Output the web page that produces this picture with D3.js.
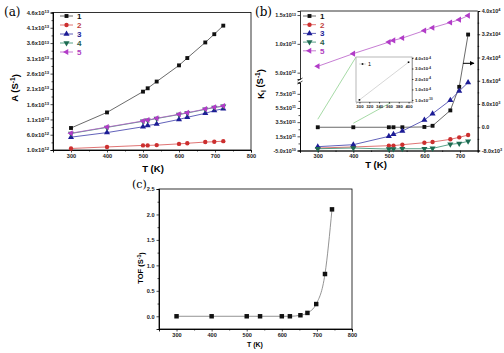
<!DOCTYPE html>
<html>
<head>
<meta charset="utf-8">
<script src="https://cdn.jsdelivr.net/npm/d3@7"></script>
<style>
  body { margin: 0; background: #fff; }
  svg { display: block; font-family: "Liberation Sans", Arial, sans-serif; }
</style>
</head>
<body>
<div id="chart"></div>
<script>
// ---- data ----
const seriesNames = ["1", "2", "3", "4", "5"];
const tempA = [300, 400, 500, 513, 538, 600, 623, 673, 698, 723];
const aS1 = [8.2e12, 1.33e13, 2.01e13, 2.12e13, 2.34e13, 2.87e13, 3.11e13, 3.62e13, 3.89e13, 4.17e13];
const aS2 = [1.5e12, 2.0e12, 2.5e12, 2.5e12, 2.6e12, 3.0e12, 3.2e12, 3.6e12, 3.7e12, 3.9e12];
const aS3 = [5.2e12, 6.7e12, 8.6e12, 9.0e12, 9.5e12, 1.1e13, 1.17e13, 1.3e13, 1.39e13, 1.45e13];
const aS4 = [6.4e12, 8.4e12, 1.04e13, 1.07e13, 1.13e13, 1.26e13, 1.31e13, 1.43e13, 1.49e13, 1.53e13];
const aS5 = [6.5e12, 8.5e12, 1.05e13, 1.08e13, 1.14e13, 1.27e13, 1.32e13, 1.44e13, 1.5e13, 1.54e13];

// panel b: series 1 on the right axis, 5 on the upper break, 2-4 on the lower one
const kS1 = [0, 0, 0, 0, 0, 100, 500, 5800, 13900, 31900];
const kS2 = [-1.5e10, 0, 1.8e10, 1.8e10, 3.2e10, 6e10, 7e10, 1.08e11, 1.36e11, 1.68e11];
const kS3 = [4e9, 3.2e10, 1.5e11, 1.78e11, 2.25e11, 3.8e11, 4.7e11, 6.6e11, 7.9e11, 9.1e11];
const kS4 = [-2.5e10, -1.5e10, -3e10, -3e10, -2.5e10, -2.5e10, -2e10, 3.7e10, 5e10, 8e10];
const kS5 = [6.1e12, 8.3e12, 1.03e13, 1.06e13, 1.1e13, 1.23e13, 1.28e13, 1.37e13, 1.42e13, 1.49e13];

// inset of panel b (series 1, 300-400 K)
const insetT = [300, 400];
const insetK = [1e-10, 3.6e-4];

// panel c
const tempC = [300, 400, 500, 538, 600, 623, 653, 673, 698, 723, 743];
const tof = [0, 0, 0, 0, 0, 0, 0.02, 0.066, 0.24, 0.83, 2.1];

// tick values
const tTicksA = [300, 400, 500, 600, 700, 800];
const tTicksB = [300, 400, 500, 600, 700];
const aTicks = [1e12, 6e12, 1.1e13, 1.6e13, 2.1e13, 2.6e13, 3.1e13, 3.6e13, 4.1e13, 4.6e13];
const kLowTicks = [-5e10, 1.5e11, 3.5e11, 5.5e11, 7.5e11];
const kHighTicks = [5e12, 1e13, 1.5e13];
const kRightTicks = [-8e3, 0, 8e3, 1.6e4, 2.4e4, 3.2e4, 4e4];
const insetXTicks = [300, 320, 340, 360, 380, 400];
const insetYTicks = [1e-10, 1e-4, 2e-4, 3e-4, 4e-4];
const tofTicks = [0, 0.5, 1.0, 1.5, 2.0, 2.5];

// series styles
const styles = [
  { color: "#111", line: "#444", text: "#111", symbol: d3.symbolSquare, size: 15, rot: 0 },
  { color: "#cc2f2f", line: "#d85050", text: "#c04040", symbol: d3.symbolCircle, size: 15, rot: 0 },
  { color: "#1c1c96", line: "#3a3aa8", text: "#1c1c96", symbol: d3.symbolTriangle, size: 16, rot: 0 },
  { color: "#1d6b52", line: "#2f8a6a", text: "#2a5a4a", symbol: d3.symbolTriangle, size: 16, rot: 180 },
  { color: "#b23cc8", line: "#b85cc8", text: "#b040c0", symbol: d3.symbolTriangle, size: 16, rot: -90 }
];

const svg = d3.select("#chart").append("svg").attr("width", 504).attr("height", 353);
svg.append("rect").attr("width", 504).attr("height", 353).attr("fill", "#fff");

// x10 style label with superscript exponent
const sciLabel = (text, v) => {
  text.text(null);
  if (v === 0) { text.text("0.0"); return; }
  const e = Math.floor(Math.log10(Math.abs(v)) + 1e-9);
  const m = (v / Math.pow(10, e)).toFixed(1);
  text.append("tspan").text(m + "x10");
  text.append("tspan").attr("dy", "-0.45em").style("font-size", "0.72em").text(e);
};

const styleAxis = (g, size) => {
  g.select(".domain").attr("stroke", "#000").attr("stroke-width", 0.8);
  g.selectAll(".tick line").attr("stroke", "#000").attr("stroke-width", 0.7);
  g.selectAll(".tick text").style("font-size", size + "px").style("font-weight", "bold").attr("fill", "#222");
};

const sciTicks = g => g.selectAll(".tick text").each(function(d) { sciLabel(d3.select(this), d); });

const minorOf = ticks => ticks.slice(1).map((t, i) => (t + ticks[i]) / 2);

function drawSeries(g, x, y, temps, vals, s, curve) {
  const pts = temps.map((t, i) => [t, vals[i]]);
  g.append("path").datum(pts)
    .attr("fill", "none").attr("stroke", s.line).attr("stroke-width", 0.8)
    .attr("d", d3.line().x(d => x(d[0])).y(d => y(d[1])).curve(curve || d3.curveLinear));
  g.selectAll(null).data(pts).join("path")
    .attr("transform", d => `translate(${x(d[0])},${y(d[1])}) rotate(${s.rot})`)
    .attr("d", d3.symbol(s.symbol, s.size))
    .attr("fill", s.color);
}

function drawLegend(g, x0, y0, gap) {
  seriesNames.forEach((name, i) => {
    const s = styles[i], y = y0 + i * gap;
    g.append("line").attr("x1", x0).attr("x2", x0 + 13).attr("y1", y).attr("y2", y)
      .attr("stroke", s.line).attr("stroke-width", 0.8);
    g.append("path").attr("transform", `translate(${x0 + 6.5},${y}) rotate(${s.rot})`)
      .attr("d", d3.symbol(s.symbol, s.size)).attr("fill", s.color);
    g.append("text").attr("x", x0 + 17).attr("y", y + 2.8).text(name)
      .style("font-size", "8px").style("font-weight", "bold").attr("fill", s.text);
  });
}

function frame(g, x0, x1, y0, y1) {
  g.append("rect").attr("x", x0).attr("y", y0).attr("width", x1 - x0).attr("height", y1 - y0)
    .attr("fill", "none").attr("stroke", "#000").attr("stroke-width", 0.8);
}

function xAxis(g, x, y, ticks, size) {
  g.append("g").attr("transform", `translate(0,${y})`)
    .call(d3.axisBottom(x).tickValues(minorOf(ticks)).tickFormat("").tickSize(1.5))
    .call(a => styleAxis(a, size));
  g.append("g").attr("transform", `translate(0,${y})`)
    .call(d3.axisBottom(x).tickValues(ticks).tickSize(2.5).tickPadding(1.5).tickFormat(d3.format("d")))
    .call(a => styleAxis(a, size));
}

// ================= panel (a) =================
const gA = svg.append("g");
const xA = d3.scaleLinear().domain([250, 800]).range([53, 251]);
const yA = d3.scaleLinear().domain([1e12, 4.6e13]).range([150, 12.5]);
frame(gA, 53, 251, 12.5, 150);
xAxis(gA, xA, 150, tTicksA, 5.6);
gA.append("g").attr("transform", "translate(53,0)")
  .call(d3.axisLeft(yA).tickValues(minorOf(aTicks)).tickFormat("").tickSize(1.5))
  .call(a => styleAxis(a, 6));
gA.append("g").attr("transform", "translate(53,0)")
  .call(d3.axisLeft(yA).tickValues(aTicks).tickSize(2.5).tickPadding(1.5))
  .call(sciTicks).call(a => styleAxis(a, 5.8));
[aS1, aS2, aS3, aS4, aS5].forEach((vals, i) => drawSeries(gA, xA, yA, tempA, vals, styles[i]));
drawLegend(gA, 60, 16, 9);
gA.append("text").attr("x", 153).attr("y", 172).attr("text-anchor", "middle")
  .style("font-size", "9.5px").style("font-weight", "bold").text("T (K)");
gA.append("text").attr("transform", "translate(18,88) rotate(-90)").attr("text-anchor", "middle")
  .style("font-size", "9.5px").style("font-weight", "bold")
  .call(t => { t.append("tspan").text("A (S"); t.append("tspan").attr("dy", "-0.45em").style("font-size", "0.7em").text("-1"); t.append("tspan").attr("dy", "0.45em").text(")"); });
svg.append("text").attr("x", 4).attr("y", 16).style("font-family", "'DejaVu Serif', serif").style("font-size", "12px").text("(a)");

// ================= panel (b) =================
const gB = svg.append("g");
const xB = d3.scaleLinear().domain([250, 750]).range([300, 477.7]);
const yLow = d3.scaleLinear().domain([-5e10, 9.1e11]).range([150.5, 82.5]);
const yHigh = d3.scaleLinear().domain([3.9e12, 1.57e13]).range([79, 11]);
const yRight = d3.scaleLinear().domain([-8e3, 4e4]).range([150.5, 11]);

gB.append("line").attr("x1", 300).attr("x2", 477.7).attr("y1", 11).attr("y2", 11).attr("stroke", "#000").attr("stroke-width", 0.8);
xAxis(gB, xB, 150.5, tTicksB, 5.6);

gB.append("g").attr("transform", "translate(300,0)")
  .call(d3.axisLeft(yLow).tickValues(minorOf(kLowTicks)).tickFormat("").tickSize(1.5))
  .call(a => styleAxis(a, 6));
gB.append("g").attr("transform", "translate(300,0)")
  .call(d3.axisLeft(yLow).tickValues(kLowTicks).tickSize(2.5).tickPadding(1.5))
  .call(sciTicks).call(a => styleAxis(a, 5.4));
gB.append("g").attr("transform", "translate(300,0)")
  .call(d3.axisLeft(yHigh).tickValues(kHighTicks).tickSize(2.5).tickPadding(1.5))
  .call(sciTicks).call(a => styleAxis(a, 5.4));
// axis break marks
[79.5, 82.5].forEach(y => gB.append("line").attr("x1", 297.5).attr("x2", 302.5)
  .attr("y1", y + 1.5).attr("y2", y - 1.5).attr("stroke", "#000").attr("stroke-width", 0.7));

gB.append("g").attr("transform", "translate(477.7,0)")
  .call(d3.axisRight(yRight).tickValues(minorOf(kRightTicks)).tickFormat("").tickSize(1.5))
  .call(a => styleAxis(a, 6));
gB.append("g").attr("transform", "translate(477.7,0)")
  .call(d3.axisRight(yRight).tickValues(kRightTicks).tickSize(2.5).tickPadding(1.5))
  .call(sciTicks).call(a => styleAxis(a, 5.4));

// zoom guide lines to the inset
const xIn = d3.scaleLinear().domain([293, 407]).range([356, 412]);
const yIn = d3.scaleLinear().domain([-0.2e-4, 4.1e-4]).range([102, 57]);
gB.append("line").attr("x1", 356).attr("y1", 57).attr("x2", xB(300)).attr("y2", yRight(0) - 8)
  .attr("stroke", "#8fd08f").attr("stroke-width", 0.8);
gB.append("line").attr("x1", 392).attr("y1", 102).attr("x2", xB(400)).attr("y2", yRight(0) - 4)
  .attr("stroke", "#8fd08f").attr("stroke-width", 0.8);

drawSeries(gB, xB, yRight, tempA, kS1, styles[0]);
drawSeries(gB, xB, yLow, tempA, kS2, styles[1]);
drawSeries(gB, xB, yLow, tempA, kS3, styles[2]);
drawSeries(gB, xB, yLow, tempA, kS4, styles[3]);
drawSeries(gB, xB, yHigh, tempA, kS5, styles[4]);
drawLegend(gB, 303, 16, 8.7);

// arrow pointing to the right axis
gB.append("defs").append("marker").attr("id", "arr").attr("viewBox", "0 0 10 10")
  .attr("refX", 9).attr("refY", 5).attr("markerWidth", 5).attr("markerHeight", 5).attr("orient", "auto")
  .append("path").attr("d", "M0,0L10,5L0,10Z").attr("fill", "#000");
gB.append("line").attr("x1", 463).attr("x2", 474).attr("y1", yRight(2.2e4)).attr("y2", yRight(2.2e4))
  .attr("stroke", "#000").attr("stroke-width", 1).attr("marker-end", "url(#arr)");

// inset
const gI = gB.append("g");
gI.append("rect").attr("x", 356).attr("y", 57).attr("width", 56).attr("height", 45)
  .attr("fill", "#fff").attr("stroke", "#999").attr("stroke-width", 0.7);
gI.append("g").attr("transform", "translate(0,102)")
  .call(d3.axisBottom(xIn).tickValues(insetXTicks).tickSize(1.5).tickPadding(1.5))
  .call(a => styleAxis(a, 4.3)).call(a => a.select(".domain").attr("stroke", "#999"));
gI.append("g").attr("transform", "translate(412,0)")
  .call(d3.axisRight(yIn).tickValues(insetYTicks).tickSize(1.5).tickPadding(1.5))
  .call(sciTicks).call(a => styleAxis(a, 4.3)).call(a => a.select(".domain").attr("stroke", "#999"));
gI.append("path").datum(insetT.map((t, i) => [t, insetK[i]]))
  .attr("fill", "none").attr("stroke", "#ccc").attr("stroke-width", 0.8)
  .attr("d", d3.line().x(d => xIn(d[0])).y(d => yIn(d[1])));
gI.selectAll(null).data(insetT.map((t, i) => [t, insetK[i]])).join("rect")
  .attr("x", d => xIn(d[0]) - 0.8).attr("y", d => yIn(d[1]) - 0.8).attr("width", 1.6).attr("height", 1.6).attr("fill", "#000");
gI.append("line").attr("x1", 359).attr("x2", 366).attr("y1", 64).attr("y2", 64).attr("stroke", "#bbb").attr("stroke-width", 0.6);
gI.append("rect").attr("x", 361.7).attr("y", 63.2).attr("width", 1.6).attr("height", 1.6).attr("fill", "#000");
gI.append("text").attr("x", 368).attr("y", 66).style("font-size", "5.5px").text("1");

gB.append("text").attr("x", 376).attr("y", 168).attr("text-anchor", "middle")
  .style("font-size", "9.5px").style("font-weight", "bold").text("T (K)");
gB.append("text").attr("transform", "translate(264,84) rotate(-90)").attr("text-anchor", "middle")
  .style("font-size", "9.5px").style("font-weight", "bold")
  .call(t => {
    t.append("tspan").text("K");
    t.append("tspan").attr("dy", "0.3em").style("font-size", "0.7em").text("I");
    t.append("tspan").attr("dy", "-0.3em").text(" (S");
    t.append("tspan").attr("dy", "-0.45em").style("font-size", "0.7em").text("-1");
    t.append("tspan").attr("dy", "0.45em").text(")");
  });
svg.append("text").attr("x", 255).attr("y", 16).style("font-family", "'DejaVu Serif', serif").style("font-size", "12px").text("(b)");

// ================= panel (c) =================
const gC = svg.append("g");
const xC = d3.scaleLinear().domain([250, 800]).range([159, 352]);
const yC = d3.scaleLinear().domain([-0.25, 2.5]).range([329, 189]);
frame(gC, 159, 352, 189, 329);
xAxis(gC, xC, 329, tTicksA, 5.6);
gC.append("g").attr("transform", "translate(159,0)")
  .call(d3.axisLeft(yC).tickValues(minorOf(tofTicks)).tickFormat("").tickSize(1.5))
  .call(a => styleAxis(a, 6));
gC.append("g").attr("transform", "translate(159,0)")
  .call(d3.axisLeft(yC).tickValues(tofTicks).tickSize(2.5).tickPadding(2).tickFormat(d3.format(".1f")))
  .call(a => styleAxis(a, 5.6));
drawSeries(gC, xC, yC, tempC, tof, { ...styles[0], line: "#777", size: 20 }, d3.curveMonotoneX);
gC.append("text").attr("x", 255).attr("y", 347).attr("text-anchor", "middle")
  .style("font-size", "7px").style("font-weight", "bold").text("T (K)");
gC.append("text").attr("transform", "translate(143,268) rotate(-90)").attr("text-anchor", "middle")
  .style("font-size", "7.5px").style("font-weight", "bold")
  .call(t => { t.append("tspan").text("TOF (S"); t.append("tspan").attr("dy", "-0.45em").style("font-size", "0.7em").text("-1"); t.append("tspan").attr("dy", "0.45em").text(")"); });
svg.append("text").attr("x", 132).attr("y", 188).style("font-family", "'DejaVu Serif', serif").style("font-size", "11px").text("(c)");
</script>
</body>
</html>
